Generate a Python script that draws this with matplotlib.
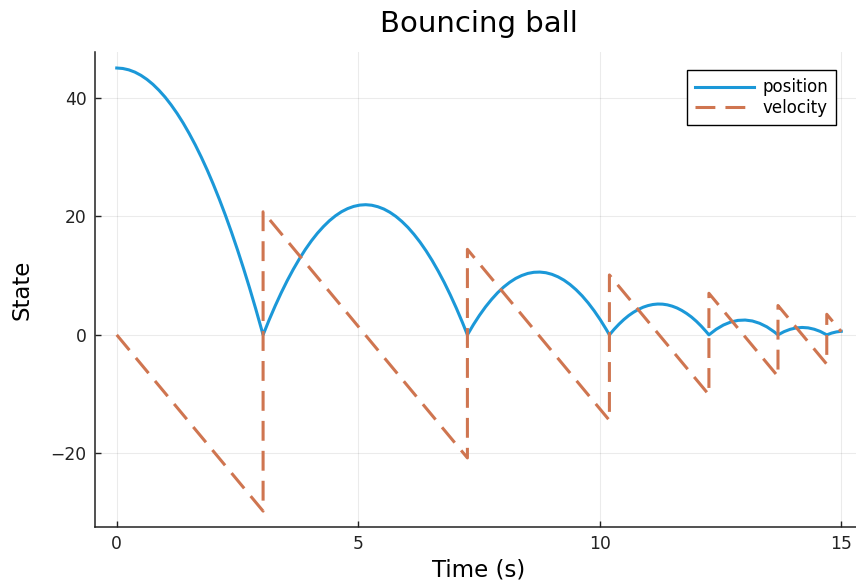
import matplotlib

matplotlib.use("Agg")
import matplotlib.pyplot as plt

# position samples (one arc per bounce)
time_pos = [
    0.0, 0.125, 0.25, 0.375, 0.5, 0.625, 0.75, 0.875, 1.0, 1.125, 1.25, 1.375,
    1.5, 1.625, 1.75, 1.875, 2.0, 2.125, 2.25, 2.375, 2.5, 2.625, 2.75, 2.875,
    3.0, 3.03,
    3.155, 3.28, 3.405, 3.53, 3.655, 3.78, 3.905, 4.03, 4.155, 4.28, 4.405,
    4.53, 4.655, 4.78, 4.905, 5.03, 5.155, 5.28, 5.405, 5.53, 5.655, 5.78,
    5.905, 6.03, 6.155, 6.28, 6.405, 6.53, 6.655, 6.78, 6.905, 7.03, 7.155,
    7.26,
    7.385, 7.51, 7.635, 7.76, 7.885, 8.01, 8.135, 8.26, 8.385, 8.51, 8.635,
    8.76, 8.885, 9.01, 9.135, 9.26, 9.385, 9.51, 9.635, 9.76, 9.885, 10.01,
    10.135, 10.20,
    10.30, 10.40, 10.50, 10.60, 10.70, 10.80, 10.90, 11.00, 11.10, 11.20,
    11.30, 11.40, 11.50, 11.60, 11.70, 11.80, 11.90, 12.00, 12.10, 12.20,
    12.26,
    12.41, 12.56, 12.71, 12.86, 13.01, 13.16, 13.31, 13.46, 13.61, 13.69,
    13.815, 13.94, 14.065, 14.19, 14.315, 14.44, 14.565, 14.70,
    14.80, 14.90, 15.0,
]
position = [
    45.0, 44.92, 44.69, 44.31, 43.77, 43.08, 42.24, 41.24, 40.10, 38.79, 37.34, 35.73,
    33.96, 32.05, 29.98, 27.76, 25.38, 22.85, 20.17, 17.33, 14.34, 11.20, 7.91, 4.46,
    0.86, 0.0,
    2.52, 4.88, 7.09, 9.15, 11.05, 12.80, 14.40, 15.85, 17.14, 18.27, 19.26,
    20.09, 20.77, 21.29, 21.66, 21.88, 21.95, 21.86, 21.61, 21.22, 20.67, 19.97,
    19.11, 18.11, 16.94, 15.63, 14.16, 12.54, 10.76, 8.84, 6.75, 4.52, 2.13,
    0.0,
    1.73, 3.30, 4.72, 5.98, 7.10, 8.06, 8.86, 9.52, 10.01, 10.36, 10.55,
    10.59, 10.48, 10.21, 9.79, 9.22, 8.49, 7.61, 6.58, 5.39, 4.05, 2.56,
    0.91, 0.0,
    0.96, 1.82, 2.59, 3.26, 3.82, 4.29, 4.67, 4.94, 5.12, 5.20,
    5.18, 5.06, 4.84, 4.53, 4.11, 3.60, 3.00, 2.29, 1.48, 0.58,
    0.0,
    0.94, 1.66, 2.16, 2.44, 2.50, 2.34, 1.95, 1.35, 0.52, 0.0,
    0.54, 0.93, 1.17, 1.25, 1.18, 0.95, 0.58, 0.0,
    0.30, 0.50, 0.60,
]

# velocity is piecewise linear: breakpoints before/after each bounce
time_vel = [0.0, 3.03, 3.03, 7.26, 7.26, 10.20, 10.20, 12.26, 12.26,
            13.69, 13.69, 14.70, 14.70, 15.0]
velocity = [0.0, -29.72, 20.75, -20.75, 14.42, -14.42, 10.10, -10.10, 7.01,
            -7.01, 4.95, -4.95, 3.47, 0.53]

x_ticks = [0, 5, 10, 15]
y_ticks = [-20, 0, 20, 40]

W, H = 856, 584
fig = plt.figure(figsize=(W / 100, H / 100), dpi=100)
ax = fig.add_axes([95 / W, (H - 527) / H, 768 / W, 475 / H])

ax.plot(time_pos, position, color="#1b98d8", lw=2.2, label="position",
        solid_joinstyle="round")
ax.plot(time_vel, velocity, color="#cf7550", lw=2.2, dashes=(6.5, 3.3),
        label="velocity")

ax.set_xlim(-0.45, 15.45)
ax.set_ylim(-32.4, 47.7)
ax.set_xticks(x_ticks)
ax.set_yticks(y_ticks)
ax.set_yticklabels(["\u221220", "0", "20", "40"])
ax.tick_params(direction="in", length=4, width=1, labelsize=12.3,
               colors="#222222", pad=6)
ax.grid(True, color="black", alpha=0.08, lw=0.8)

for side in ("top", "right"):
    ax.spines[side].set_visible(False)
for side in ("left", "bottom"):
    ax.spines[side].set_linewidth(1.1)
    ax.spines[side].set_color("#222222")

ax.set_xlabel("Time (s)", fontsize=16.5, labelpad=4)
ax.set_ylabel("State", fontsize=16.5, labelpad=12)
fig.text(479 / W, 1 - 24 / H, "Bouncing ball", fontsize=21, ha="center",
         va="center")

leg = ax.legend(loc="upper right", bbox_to_anchor=(0.965, 0.962),
                borderaxespad=0, fancybox=False, framealpha=1,
                edgecolor="black", fontsize=12, handlelength=3.5,
                handletextpad=0.5, borderpad=0.5, labelspacing=0.15)
leg.get_frame().set_linewidth(1.0)

fig.savefig("out.png", dpi=100)
